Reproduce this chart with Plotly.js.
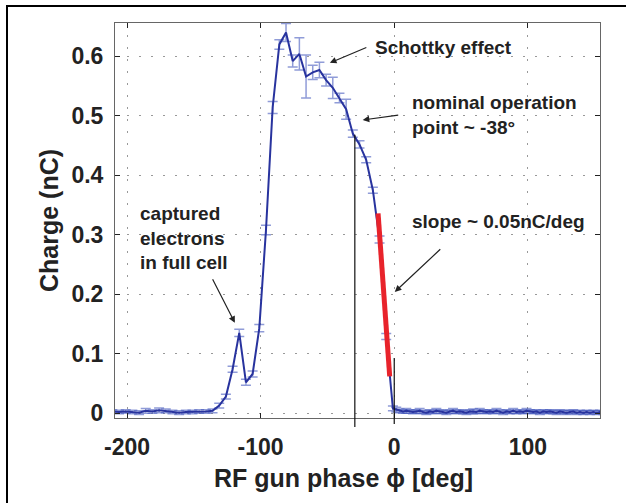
<!DOCTYPE html>
<html>
<head>
<meta charset="utf-8">
<script src="https://cdn.plot.ly/plotly-3.0.1.min.js"></script>
<style>
  html, body { margin: 0; padding: 0; background: #fff; }
  #wrap { position: relative; width: 626px; height: 503px; overflow: hidden; }
  #chart { width: 626px; height: 503px; }
  #frame { position: absolute; left: 6px; top: 5px; width: 640px; height: 520px;
           border-top: 2px solid #000; border-left: 2px solid #000; pointer-events: none; }
</style>
</head>
<body>
<div id="wrap"><div id="chart"></div><div id="frame"></div></div>
<script>
// ---- data ----
const phase = [
  -211, -206, -201, -196, -191, -186, -181, -176, -171, -166, -161, -156, -151, -146, -141,
  -136, -131, -126, -121, -116, -111, -106, -101, -96, -91, -86, -81, -76, -71, -66, -61,
  -56, -51, -46, -41, -36, -31, -26, -21, -16, -11, -6, -1,
  1.5, 4, 6.5, 9, 11.5, 14, 16.5, 19, 21.5, 24, 26.5, 29, 31.5, 34, 36.5, 39, 41.5, 44,
  46.5, 49, 51.5, 54, 56.5, 59, 61.5, 64, 66.5, 69, 71.5, 74, 76.5, 79, 81.5, 84, 86.5,
  89, 91.5, 94, 96.5, 99, 101.5, 104, 106.5, 109, 111.5, 114, 116.5, 119, 121.5, 124,
  126.5, 129, 131.5, 134, 136.5, 139, 141.5, 144, 146.5, 149, 151.5, 154, 156.5
];
const charge = [
  0.003, 0.002, 0.003, 0.002, 0.001, 0.004, 0.003, 0.005, 0.004, 0.002, 0.001, 0.002, 0.002, 0.003, 0.003,
  0.004, 0.013, 0.028, 0.074, 0.135, 0.052, 0.066, 0.143, 0.308, 0.514, 0.620, 0.640, 0.592, 0.604, 0.566, 0.573,
  0.577, 0.560, 0.547, 0.530, 0.511, 0.470, 0.452, 0.426, 0.375, 0.292, 0.129, 0.008,
  0.006, 0.004, 0.003, 0.004, 0.003, 0.002, 0.003, 0.004, 0.002, 0.001, 0.003, 0.002, 0.004, 0.003, 0.002, 0.001, 0.003, 0.004,
  0.002, 0.003, 0.002, 0.001, 0.003, 0.003, 0.002, 0.004, 0.003, 0.002, 0.003, 0.002, 0.004, 0.003, 0.001, 0.003, 0.002,
  0.004, 0.002, 0.003, 0.002, 0.004, 0.003, 0.002, 0.003, 0.001, 0.003, 0.002, 0.003, 0.002, 0.001, 0.003,
  0.002, 0.001, 0.002, 0.003, 0.001, 0.002, 0.001, 0.002, 0.001, 0.002, 0.001, 0.002, 0.001
];
const chargeErr = [
  0.003, 0.003, 0.003, 0.003, 0.003, 0.004, 0.003, 0.004, 0.003, 0.003, 0.003, 0.003, 0.003, 0.003, 0.003,
  0.003, 0.004, 0.004, 0.005, 0.006, 0.005, 0.005, 0.006, 0.008, 0.010, 0.008, 0.015, 0.010, 0.027, 0.036, 0.012,
  0.013, 0.010, 0.018, 0.008, 0.017, 0.006, 0.006, 0.005, 0.005, 0.006, 0.005, 0.004,
  0.004, 0.003, 0.003, 0.004, 0.003, 0.003, 0.003, 0.004, 0.003, 0.003, 0.003, 0.003, 0.004, 0.003, 0.003, 0.003, 0.003, 0.004,
  0.003, 0.003, 0.003, 0.003, 0.003, 0.004, 0.003, 0.004, 0.003, 0.003, 0.003, 0.003, 0.004, 0.003, 0.003, 0.003, 0.003,
  0.004, 0.003, 0.003, 0.003, 0.004, 0.003, 0.003, 0.003, 0.003, 0.003, 0.003, 0.003, 0.003, 0.003, 0.003,
  0.003, 0.003, 0.003, 0.003, 0.003, 0.003, 0.003, 0.003, 0.003, 0.003, 0.003, 0.003, 0.003
];
const fitPhase = [-12.1, -3.4];
const fitCharge = [0.336, 0.062];

const markerPhase = [-29.5, 0];          // black vertical marker lines
const markerTop = [0.468, 0.093];
const markerBottom = [-0.023, -0.018];

const xTickVals = [-200, -100, 0, 100];
const xTickText = ['-200', '-100', '0', '100'];
const yTickVals = [0, 0.1, 0.2, 0.3, 0.4, 0.5, 0.6];
const yTickText = ['0', '0.1', '0.2', '0.3', '0.4', '0.5', '0.6'];

const xTitle = 'RF gun phase ϕ [deg]';
const yTitle = 'Charge (nC)';

const xRange = [-209, 154];
const yRange = [-0.008, 0.656];

// ---- drawing ----
const FONT = 'Liberation Sans, Arial, Helvetica, sans-serif';
const toPaperY = v => (v - yRange[0]) / (yRange[1] - yRange[0]);

const traces = [
  {
    x: phase, y: charge, type: 'scatter', mode: 'lines',
    line: { color: '#28339e', width: 2 },
    error_y: { type: 'data', array: chargeErr, visible: true,
               color: 'rgba(70,90,190,0.6)', thickness: 1.5, width: 5 },
    hoverinfo: 'x+y'
  },
  {
    x: fitPhase, y: fitCharge, type: 'scatter', mode: 'lines',
    line: { color: '#e8232b', width: 5 }
  }
];

const shapes = markerPhase.map((p, i) => ({
  type: 'line', xref: 'x', yref: 'paper',
  x0: p, x1: p, y0: toPaperY(markerBottom[i]), y1: toPaperY(markerTop[i]),
  line: { color: '#111', width: 1.2 }
}));

const annFont = { family: FONT, size: 19, color: '#222', weight: 700 };
const arrowStyle = { showarrow: true, arrowhead: 2, arrowsize: 1.1, arrowwidth: 1.2, arrowcolor: '#222', text: '' };

const annotations = [
  { x: -16.1, y: 0.614, text: 'Schottky effect', xanchor: 'left', yanchor: 'middle', showarrow: false, font: annFont },
  { x: 11.6, y: 0.502, text: 'nominal operation<br>point ~ -38°', xanchor: 'left', yanchor: 'middle', align: 'left', showarrow: false, font: annFont },
  { x: 11.6, y: 0.322, text: 'slope ~ 0.05nC/deg', xanchor: 'left', yanchor: 'middle', showarrow: false, font: annFont },
  { x: -191.9, y: 0.2945, text: 'captured<br>electrons<br>in full cell', xanchor: 'left', yanchor: 'middle', align: 'left', showarrow: false, font: annFont },
  Object.assign({ x: -48.2, y: 0.589, ax: 38, ay: -16 }, arrowStyle),
  Object.assign({ x: -23.6, y: 0.493, ax: 37, ay: -5 }, arrowStyle),
  Object.assign({ x: 0.4, y: 0.204, ax: 47, ay: -44 }, arrowStyle),
  Object.assign({ x: -119.3, y: 0.152, ax: -23, ay: -45 }, arrowStyle),
  // x-axis title (placed slightly left of plot centre, as in the reference)
  { xref: 'paper', yref: 'paper', x: 0.472, y: -0.152, text: xTitle, showarrow: false,
    xanchor: 'center', yanchor: 'middle',
    font: { family: FONT, size: 25, color: '#222', weight: 700 } }
];

const axisCommon = {
  showline: true, linecolor: '#666', linewidth: 1, mirror: 'ticks',
  ticks: 'inside', ticklen: 5, tickcolor: '#222', tickwidth: 1,
  showgrid: true, gridcolor: '#999', gridwidth: 1, griddash: '2px,10px',
  zeroline: false, tickmode: 'array',
  tickfont: { family: FONT, size: 23, color: '#222', weight: 700 }
};

const layout = {
  width: 626, height: 503,
  margin: { l: 115, r: 26, t: 23, b: 85 },
  paper_bgcolor: '#fff', plot_bgcolor: '#fff',
  showlegend: false,
  xaxis: Object.assign({}, axisCommon, {
    range: xRange, tickvals: xTickVals, ticktext: xTickText, ticklabelstandoff: 8
  }),
  yaxis: Object.assign({}, axisCommon, {
    range: yRange, tickvals: yTickVals, ticktext: yTickText, ticklabelstandoff: 6,
    title: { text: yTitle, standoff: 5,
             font: { family: FONT, size: 25, color: '#222', weight: 700 } }
  }),
  shapes: shapes,
  annotations: annotations
};

Plotly.newPlot('chart', traces, layout, { staticPlot: true, displayModeBar: false });
</script>
</body>
</html>
